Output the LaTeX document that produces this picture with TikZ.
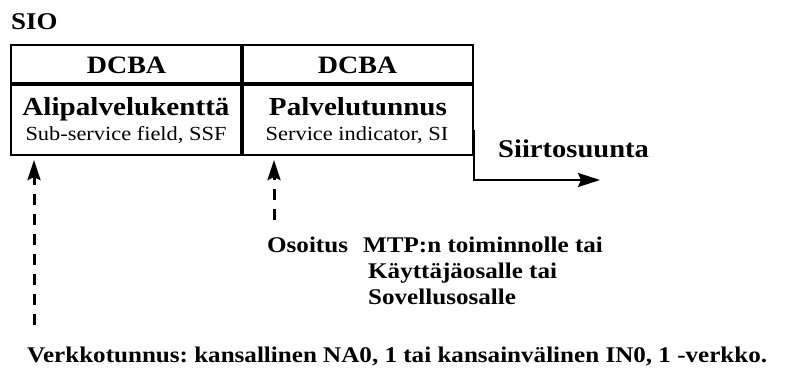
\documentclass[tikz,border=0pt]{standalone}
\usepackage{fontspec}
\setmainfont{Liberation Serif}[FakeStretch=1.12]
\usetikzlibrary{arrows.meta}
\frenchspacing
\begin{document}
\begin{tikzpicture}[x=1pt,y=-1pt,
  cell/.style={draw, line width=2.2pt, inner sep=0pt, minimum width=230.5pt},
  head/.style={font=\fontsize{25}{30}\selectfont\bfseries, anchor=base, inner sep=0pt},
  title/.style={font=\fontsize{26}{30}\selectfont\bfseries, anchor=base, inner sep=0pt},
  sub/.style={font=\fontsize{20}{24}\selectfont, anchor=base, inner sep=0pt},
  note/.style={font=\fontsize{22.4}{26}\selectfont\bfseries, anchor=base west, inner sep=0pt},
  ptr/.style={line width=3pt, dash pattern=on 11pt off 9pt,
    -{Stealth[length=20pt,width=13pt,inset=3pt]}},
  flow/.style={line width=2pt, -{Stealth[length=22pt,width=14pt,inset=3pt]}}
]
\useasboundingbox (0,0) rectangle (788,372);

% header
\node[font=\fontsize{24}{28}\selectfont\bfseries, anchor=base west, inner sep=0pt] (sio) at (11,30) {SIO};

% the four cells of the octet
\node[cell, minimum height=38.5pt] (dL) at (126.25,64.25) {};
\node[cell, minimum height=38.5pt] (dR) at (357.75,64.25) {};
\node[cell, minimum height=70.5pt] (fL) at (126.25,119.75) {};
\node[cell, minimum height=70.5pt] (fR) at (357.75,119.75) {};

\node[head] (bitsL) at (126.5,73) {DCBA};
\node[head] (bitsR) at (357.5,73) {DCBA};
\node[title] (ssf) at (126,115) {Alipalvelukenttä};
\node[sub] (ssfen) at (126,140) {Sub-service field, SSF};
\node[title] (si) at (358,115) {Palvelutunnus};
\node[sub] (sien) at (357,140) {Service indicator, SI};

% transmission direction
\coordinate (flowEnd) at (600,180);
\draw[flow] ([yshift=-10.25pt]fR.east) |- (flowEnd);
\node[font=\fontsize{25.5}{30}\selectfont\bfseries, anchor=base west, inner sep=0pt] (dir) at (498,157) {Siirtosuunta};

% pointers to the fields
\coordinate (siStart) at (274,220);
\coordinate (ssfStart) at (34,325);
\draw[ptr] (siStart) -- ([yshift=-4pt]fR.south -| siStart);
\draw[ptr] (ssfStart) -- ([yshift=-4pt]fL.south -| ssfStart);

% explanations
\node[note] (osoitus) at (267,252) {Osoitus};
\node[note] (mtp) at (363,252) {MTP:n toiminnolle tai};
\node[note] (kayttaja) at (368,278) {Käyttäjäosalle tai};
\node[note] (sovellus) at (368,304) {Sovellusosalle};
\node[note] (verkko) at (27,362) {Verkkotunnus: kansallinen NA0, 1 tai kansainvälinen IN0, 1 -verkko.};
\end{tikzpicture}
\end{document}
